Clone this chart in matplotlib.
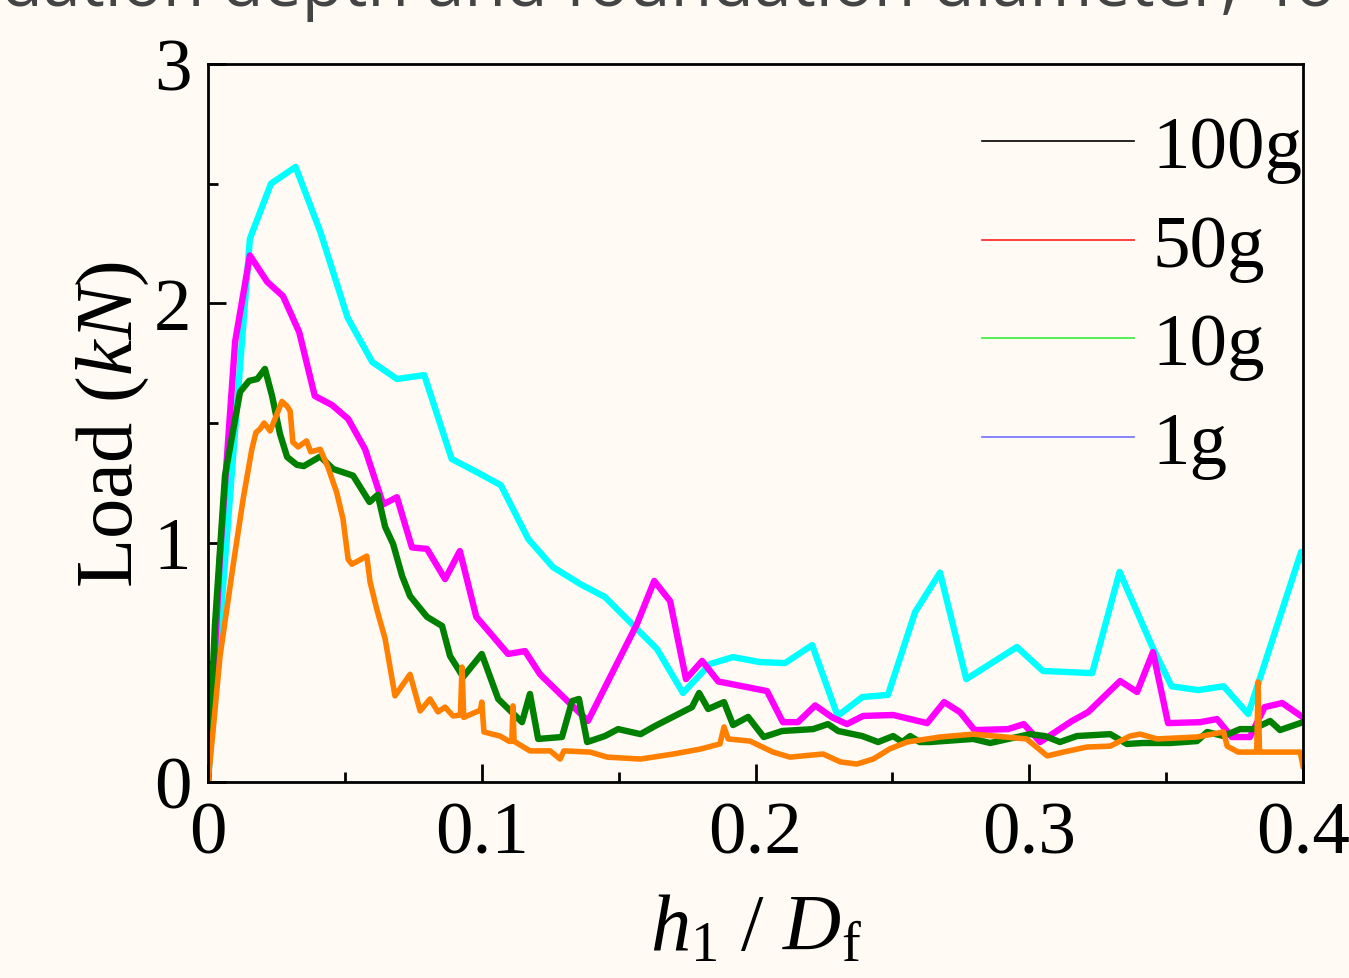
import numpy as np
import matplotlib.pyplot as plt
from matplotlib.lines import Line2D

# ------------------------------------------------------------------
# data (h1/Df , load in kN)
# ------------------------------------------------------------------
cyan_x = [0, 0.0153, 0.023, 0.032, 0.041, 0.051, 0.060, 0.069, 0.079, 0.089,
          0.099, 0.107, 0.117, 0.126, 0.136, 0.145, 0.164, 0.1735, 0.1834,
          0.1918, 0.2016, 0.2108, 0.2207, 0.230, 0.239, 0.2484, 0.2583,
          0.2674, 0.277, 0.2955, 0.305, 0.323, 0.333, 0.345, 0.352, 0.3617,
          0.371, 0.380, 0.3993, 0.4]
cyan_y = [0, 2.27, 2.50, 2.57, 2.30, 1.94, 1.755, 1.684, 1.70, 1.35,
          1.29, 1.24, 1.015, 0.898, 0.827, 0.773, 0.556, 0.372, 0.493,
          0.522, 0.501, 0.497, 0.572, 0.276, 0.355, 0.364, 0.710,
          0.875, 0.43, 0.564, 0.464, 0.455, 0.878, 0.564, 0.40, 0.384,
          0.40, 0.284, 0.961, 0.93]

magenta_x = [0, 0.0044, 0.0099, 0.0153, 0.0216, 0.0274, 0.0333, 0.039, 0.0453,
             0.0512, 0.0574, 0.064, 0.069, 0.0745, 0.080, 0.0866, 0.092, 0.098,
             0.1096, 0.1158, 0.1213, 0.1388, 0.1567, 0.163, 0.1688, 0.1746,
             0.1805, 0.1864, 0.2042, 0.210, 0.2155, 0.2218, 0.228, 0.2334,
             0.2393, 0.2503, 0.2627, 0.2689, 0.2747, 0.280, 0.2923, 0.298,
             0.304, 0.3156, 0.3215, 0.3332, 0.3394, 0.3452, 0.3507, 0.3624,
             0.3686, 0.374, 0.3806, 0.386, 0.3924, 0.4]
magenta_y = [0, 0.95, 1.84, 2.20, 2.09, 2.03, 1.88, 1.613, 1.575,
             1.517, 1.39, 1.16, 1.19, 0.98, 0.974, 0.848, 0.965, 0.69,
             0.535, 0.547, 0.45, 0.255, 0.66, 0.84, 0.756, 0.43,
             0.506, 0.42, 0.38, 0.25, 0.25, 0.32, 0.27, 0.242,
             0.276, 0.28, 0.246, 0.334, 0.292, 0.217, 0.221, 0.242,
             0.167, 0.255, 0.292, 0.422, 0.376, 0.543, 0.246, 0.25,
             0.263, 0.188, 0.188, 0.313, 0.33, 0.27]

green_x = [0, 0.0025, 0.0062, 0.0117, 0.015, 0.018, 0.0208, 0.0234, 0.0263,
           0.0289, 0.0325, 0.035, 0.041, 0.0457, 0.053, 0.059, 0.062, 0.0647,
           0.0676, 0.0709, 0.0738, 0.080, 0.0855, 0.0884, 0.0932, 0.100,
           0.106, 0.1147, 0.1176, 0.1206, 0.1293, 0.133, 0.1355, 0.1385,
           0.145, 0.1498, 0.158, 0.1633, 0.1768, 0.1794, 0.1827, 0.1885,
           0.1918, 0.1973, 0.203, 0.2097, 0.221, 0.2265, 0.2302, 0.239,
           0.2448, 0.2503, 0.2536, 0.2565, 0.260, 0.2637, 0.2795, 0.2857,
           0.3003, 0.3057, 0.3112, 0.3174, 0.3296, 0.3357, 0.3416, 0.3515,
           0.3613, 0.365, 0.371, 0.377, 0.3818, 0.388, 0.3916, 0.4]
green_y = [0, 0.65, 1.28, 1.63, 1.676, 1.684, 1.726, 1.613, 1.454,
           1.358, 1.325, 1.32, 1.36, 1.308, 1.28, 1.17, 1.20, 1.066,
           0.995, 0.861, 0.777, 0.69, 0.652, 0.527, 0.439, 0.535,
           0.347, 0.25, 0.368, 0.18, 0.188, 0.338, 0.347, 0.167,
           0.192, 0.221, 0.2, 0.234, 0.313, 0.372, 0.305, 0.334,
           0.238, 0.272, 0.188, 0.213, 0.221, 0.242, 0.213, 0.192,
           0.167, 0.192, 0.167, 0.192, 0.167, 0.167, 0.18, 0.163,
           0.2, 0.192, 0.167, 0.192, 0.2, 0.159, 0.163, 0.163,
           0.171, 0.209, 0.192, 0.221, 0.221, 0.255, 0.217, 0.25]

orange_x = [0, 0.0018, 0.0044, 0.0091, 0.0128, 0.016, 0.0175, 0.019, 0.0205,
            0.0227, 0.027, 0.0289, 0.030, 0.031, 0.0329, 0.036, 0.0375, 0.041,
            0.0438, 0.047, 0.0493, 0.0512, 0.0526, 0.058, 0.0592, 0.0617,
            0.0647, 0.0683, 0.0738, 0.0775, 0.0811, 0.084, 0.0866, 0.0895,
            0.0922, 0.0928, 0.0934, 0.098, 0.0995, 0.1000, 0.1008, 0.1067,
            0.110, 0.1110, 0.1114, 0.1118, 0.1176, 0.125, 0.1286, 0.130,
            0.1396, 0.1458, 0.158, 0.170, 0.180, 0.187, 0.1885, 0.190, 0.198,
            0.2064, 0.2126, 0.2247, 0.231, 0.237, 0.243, 0.249, 0.2553,
            0.2674, 0.2795, 0.299, 0.3066, 0.3124, 0.321, 0.3296, 0.3368,
            0.3405, 0.3467, 0.3613, 0.371, 0.3723, 0.3763, 0.3818, 0.3831,
            0.3836, 0.3841, 0.3847, 0.399, 0.4]
orange_y = [0, 0.21, 0.527, 0.90, 1.18, 1.39, 1.46, 1.475, 1.50,
            1.467, 1.59, 1.57, 1.55, 1.42, 1.40, 1.425, 1.38, 1.39,
            1.316, 1.21, 1.10, 0.93, 0.91, 0.944, 0.836, 0.72,
            0.598, 0.36, 0.45, 0.297, 0.347, 0.293, 0.313, 0.276,
            0.28, 0.48, 0.27, 0.293, 0.30, 0.334, 0.209, 0.192,
            0.17, 0.17, 0.318, 0.17, 0.13, 0.13, 0.096, 0.13,
            0.125, 0.104, 0.096, 0.117, 0.138, 0.159, 0.23, 0.18, 0.171,
            0.125, 0.104, 0.117, 0.084, 0.075, 0.096, 0.138, 0.167,
            0.188, 0.2, 0.18, 0.109, 0.125, 0.146, 0.15, 0.192,
            0.2, 0.18, 0.188, 0.209, 0.15, 0.125, 0.125, 0.125,
            0.418, 0.125, 0.125, 0.125, 0.067]

legend_labels = ['100g', '50g', '10g', '1g']
legend_colors = ['black', '#ff2020', '#33ee33', '#6f6fff']

x_ticks = [0, 0.1, 0.2, 0.3, 0.4]
x_ticklabels = ['0', '0.1', '0.2', '0.3', '0.4']
y_ticks = [0, 1, 2, 3]

# ------------------------------------------------------------------
bg = '#fffaf3'
plt.rcParams['font.family'] = 'Liberation Serif'
plt.rcParams['mathtext.fontset'] = 'custom'
plt.rcParams['mathtext.rm'] = 'Liberation Serif'
plt.rcParams['mathtext.it'] = 'Liberation Serif:italic'

fig = plt.figure(figsize=(13.49, 9.79), dpi=100, facecolor=bg)
ax = fig.add_axes([0.1542, 0.2002, 0.8117, 0.7334], facecolor=bg)

ax.plot(cyan_x, cyan_y, color='#00ffff', lw=4.6)
ax.plot(magenta_x, magenta_y, color='#ff00ff', lw=4.6)
ax.plot(green_x, green_y, color='#008000', lw=4.6)
ax.plot(orange_x, orange_y, color='#ff8000', lw=4.0)

ax.set_xlim(0, 0.4)
ax.set_ylim(0, 3)
ax.set_xticks(x_ticks)
ax.set_xticklabels(x_ticklabels)
ax.set_yticks(y_ticks)
ax.set_xticks([0.05, 0.15, 0.25, 0.35], minor=True)
ax.set_yticks([0.5, 1.5, 2.5], minor=True)
ax.tick_params(which='both', direction='in', width=2, labelsize=54,
               top=False, right=False)
ax.tick_params(which='major', length=13)
ax.tick_params(which='minor', length=7)
ax.tick_params(axis='x', pad=14)
ax.tick_params(axis='y', pad=12)
for s in ax.spines.values():
    s.set_linewidth(2)

ax.set_ylabel(r'Load ($kN$)', fontsize=58, labelpad=2)
ax.set_xlabel(r'$h_{\mathrm{1}}$ / $D_{\mathrm{f}}$', fontsize=58, labelpad=18)

handles = [Line2D([], [], color=c, lw=1.2) for c in legend_colors]
ax.legend(handles, legend_labels, loc='upper left', bbox_to_anchor=(0.707, 0.929),
          frameon=False, fontsize=54, handlelength=2.03, handletextpad=0.24,
          labelspacing=0.4, borderpad=0, borderaxespad=0)

# partially visible caption at the very top of the picture
fig.text(1238 / 1349, 1 - 6 / 979, 'undation depth and foundation diameter,',
         ha='right', va='baseline', fontsize=49, color='#444444', family='Open Sans')
fig.text(1272 / 1349, 1 - 6 / 979, 'fo',
         ha='left', va='baseline', fontsize=49, color='#444444', family='Open Sans')

fig.savefig('out.png', dpi=100, facecolor=bg)
